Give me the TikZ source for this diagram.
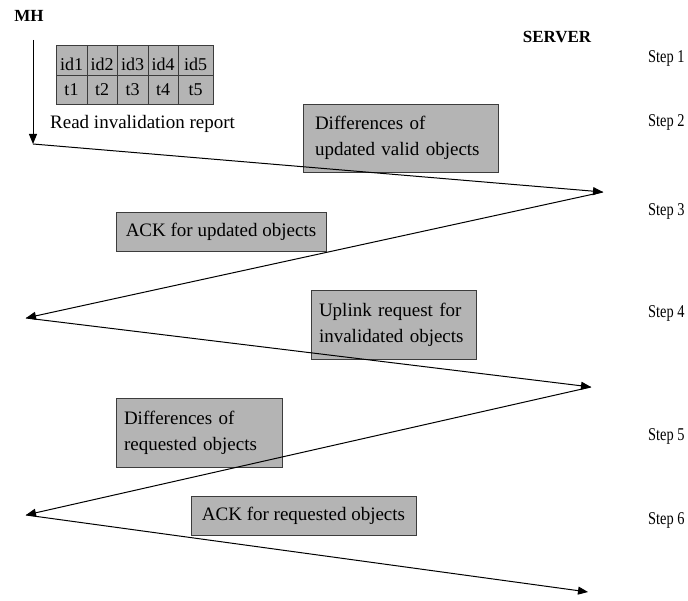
\documentclass[tikz,border=0pt]{standalone}
\usepackage{fontspec}
\setmainfont{Liberation Serif}
\usetikzlibrary{arrows.meta}
\definecolor{boxgray}{RGB}{180,180,180}
\definecolor{boxline}{RGB}{60,60,60}
\tikzset{
  msgbox/.style={draw=boxline, fill=boxgray, line width=0.9pt, rectangle, anchor=center,
    inner ysep=0pt, font=\fontsize{19}{26}\selectfont},
  twoline/.style={msgbox, align=left},
  cell/.style={draw=boxline, fill=boxgray, line width=0.8pt, rectangle, anchor=center,
    inner sep=0pt, font=\fontsize{18}{20}\selectfont},
  steplbl/.style={anchor=west, inner sep=0pt, font=\fontsize{18}{20}\selectfont},
  msg/.style={draw=black, line width=1pt, -{Triangle[length=10pt,width=8pt]}},
  role/.style={inner sep=0pt, font=\fontsize{17}{20}\selectfont\bfseries}
}
\newcommand{\stepname}[1]{\scalebox{0.8}[1]{#1}}
\newcommand{\lowtxt}[1]{\raisebox{0pt}[\dimexpr\height+9pt\relax]{#1}}
\begin{document}
\begin{tikzpicture}[x=1pt,y=-1pt]
\useasboundingbox (0,0) rectangle (688,601);

% headers
\node[role] (mh) at (29,16) {MH};
\node[role] (server) at (557,37) {SERVER};

% step labels
\node[steplbl] (step1) at (648,58) {\stepname{Step 1}};
\node[steplbl] (step2) at (648,122) {\stepname{Step 2}};
\node[steplbl] (step3) at (648,211) {\stepname{Step 3}};
\node[steplbl] (step4) at (648,313) {\stepname{Step 4}};
\node[steplbl] (step5) at (648,436) {\stepname{Step 5}};
\node[steplbl] (step6) at (648,520) {\stepname{Step 6}};

% invalidation report table
\node[cell, minimum width=31pt, minimum height=30pt] (c11) at (71.5,60) {\lowtxt{id1}};
\node[cell, minimum width=30pt, minimum height=30pt] (c12) at (102,60) {\lowtxt{id2}};
\node[cell, minimum width=31pt, minimum height=30pt] (c13) at (132.5,60) {\lowtxt{id3}};
\node[cell, minimum width=30pt, minimum height=30pt] (c14) at (163,60) {\lowtxt{id4}};
\node[cell, minimum width=35pt, minimum height=30pt] (c15) at (195.5,60) {\lowtxt{id5}};
\node[cell, minimum width=31pt, minimum height=29pt] (c21) at (71.5,89.5) {t1};
\node[cell, minimum width=30pt, minimum height=29pt] (c22) at (102,89.5) {t2};
\node[cell, minimum width=31pt, minimum height=29pt] (c23) at (132.5,89.5) {t3};
\node[cell, minimum width=30pt, minimum height=29pt] (c24) at (163,89.5) {t4};
\node[cell, minimum width=35pt, minimum height=29pt] (c25) at (195.5,89.5) {t5};
\node[anchor=west, inner sep=0pt, font=\fontsize{19}{22}\selectfont] (read) at (50,124) {Read invalidation report};

% message boxes
\node[twoline, minimum width=195pt, minimum height=68pt, text width=171pt] (boxA) at (400.5,138)
  {Differences of\\updated valid objects};
\node[msgbox, minimum width=210pt, minimum height=39pt] (boxB) at (221,231.5)
  {ACK for updated objects};
\node[twoline, minimum width=165pt, minimum height=69pt, text width=149pt] (boxC) at (393.5,324.5)
  {Uplink request for\\invalidated objects};
\node[twoline, minimum width=166pt, minimum height=69pt, text width=150pt] (boxD) at (199,432.5)
  {Differences of\\requested objects};
\node[msgbox, minimum width=225pt, minimum height=39pt] (boxE) at (303.5,515.5)
  {ACK for requested objects};

% turning points
\coordinate (top) at (33,40);
\coordinate (m1) at (33,144);
\coordinate (s1) at (603,192);
\coordinate (m2) at (26,318);
\coordinate (s2) at (591,387);
\coordinate (m3) at (26,515);
\coordinate (s3) at (588,592);

% connectors
\draw[msg] (top) -- (m1);
\draw[msg] (m1) -- (s1);
\draw[msg] (s1) -- (m2);
\draw[msg] (m2) -- (s2);
\draw[msg] (s2) -- (m3);
\draw[msg] (m3) -- (s3);
\end{tikzpicture}
\end{document}
